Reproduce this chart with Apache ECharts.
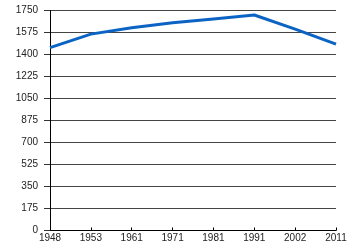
<!DOCTYPE html>
<html>
<head>
<meta charset="utf-8">
<script src="https://cdn.jsdelivr.net/npm/echarts@6/dist/echarts.min.js"></script>
<style>html,body{margin:0;padding:0;background:#fff}#c{width:350px;height:250px}</style>
</head>
<body>
<div id="c"></div>
<script>
var years = ['1948','1953','1961','1971','1981','1991','2002','2011'];
var population = [1455, 1562, 1612, 1652, 1683, 1714, 1602, 1482];
var yMin = 0, yMax = 1750, yStep = 175;

var font = "'Liberation Sans', Arial, sans-serif";
var chart = echarts.init(document.getElementById('c'), null, {renderer: 'canvas'});
chart.setOption({
  animation: false,
  grid: {left: 50, right: 14, top: 10.5, bottom: 19.5, containLabel: false},
  xAxis: {
    type: 'category',
    data: years,
    boundaryGap: false,
    axisLine: {lineStyle: {color: '#000', width: 1}},
    axisTick: {show: true, inside: true, length: 3, lineStyle: {color: '#000'}},
    axisLabel: {color: '#222', fontSize: 10, fontFamily: font, margin: 3, showMaxLabel: true, showMinLabel: true},
    splitLine: {show: false}
  },
  yAxis: {
    type: 'value',
    min: yMin, max: yMax, interval: yStep,
    axisLine: {show: true, lineStyle: {color: '#000', width: 1}},
    axisTick: {show: true, length: 6, lineStyle: {color: '#333'}},
    axisLabel: {color: '#222', fontSize: 10, fontFamily: font, margin: 12,
      formatter: function (v) { return String(v); }},
    splitLine: {show: true, lineStyle: {color: '#444', width: 1}}
  },
  series: [{
    type: 'line',
    data: population,
    showSymbol: false,
    symbol: 'none',
    lineStyle: {color: '#0b64c4', width: 3},
    itemStyle: {color: '#0b64c4'}
  }]
});
</script>
</body>
</html>
